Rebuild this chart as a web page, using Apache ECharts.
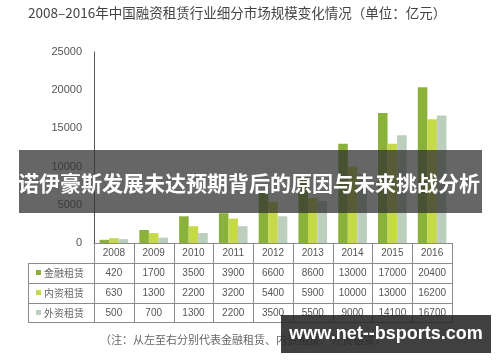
<!DOCTYPE html>
<html><head><meta charset="utf-8">
<script src="https://cdn.jsdelivr.net/npm/echarts@6/dist/echarts.min.js"></script>
<style>html,body{margin:0;padding:0;background:#fff}#c{width:500px;height:362px}</style>
</head><body><div id="c"></div>
<script>
const years = ['2008','2009','2010','2011','2012','2013','2014','2015','2016'];
const jinrong = [420,1700,3500,3900,6600,8600,13000,17000,20400];
const neizi = [630,1300,2200,3200,5400,5900,10000,13000,16200];
const waizi = [500,700,1300,2200,3500,5500,9000,14100,16700];
const seriesNames = ['金融租赁','内资租赁','外资租赁'];
const seriesColors = ['#8ab23a','#c6d94a','#bccebc'];
const titleText = '2008–2016年中国融资租赁行业细分市场规模变化情况（单位：亿元）';
const noteText = '（注：从左至右分别代表金融租赁、内资租赁、外资租赁）';
const bannerText = '诺伊豪斯发展未达预期背后的原因与未来挑战分析';
const siteText = 'www.net--bsports.com';

const NUM = 'Liberation Sans, Arial, Noto Sans CJK SC, sans-serif';
const CJK = 'Noto Sans CJK SC, sans-serif';
const G = {left: 94, top: 52, right: 48, bottom: 119};
const W = 500 - G.left - G.right;
const axisY = 362 - G.bottom;
const rowH = 20;
const tableBottom = axisY + rowH * 4 - 1;
const lineColor = '#8a8a8a';

const rows = [jinrong, neizi, waizi];
const xAxes = [{
  type: 'category', data: years, gridIndex: 0, position: 'bottom',
  axisLine: {show: true, lineStyle: {color: lineColor, width: 1}},
  axisTick: {show: false},
  axisLabel: {margin: 5, fontSize: 10, color: '#555', fontFamily: NUM}
}];
rows.forEach((arr, r) => {
  xAxes.push({
    type: 'category', data: years, gridIndex: 0, position: 'bottom', offset: rowH * (r + 1),
    axisLine: {show: false}, axisTick: {show: false},
    axisLabel: {margin: 5, fontSize: 10, color: '#555', fontFamily: NUM,
      formatter: (v, i) => String(arr[i])}
  });
});

const graphics = [];
graphics.push({type: 'text', left: 28, top: 6, z: 10,
  style: {text: titleText, fill: '#444', font: '13.5px ' + CJK}});
const hl = (y, x1, x2) => graphics.push({type: 'line', z: 5,
  shape: {x1: x1, y1: y + 0.5, x2: x2, y2: y + 0.5}, style: {stroke: lineColor, lineWidth: 1}});
const vl = (x, y1, y2) => graphics.push({type: 'line', z: 5,
  shape: {x1: x + 0.5, y1: y1, x2: x + 0.5, y2: y2}, style: {stroke: lineColor, lineWidth: 1}});
for (let r = 1; r <= 3; r++) hl(axisY + rowH * r, 28, G.left + W);
hl(tableBottom, 28, G.left + W);
vl(28, axisY + rowH, tableBottom);
vl(G.left, axisY, tableBottom);
for (let k = 1; k <= years.length; k++) vl(Math.round(G.left + W * k / years.length), axisY, tableBottom);
seriesNames.forEach((n, r) => {
  const cy = axisY + rowH * (r + 1) + rowH / 2;
  graphics.push({type: 'rect', z: 6, shape: {x: 36, y: cy - 3, width: 5, height: 5}, style: {fill: seriesColors[r]}});
  graphics.push({type: 'text', z: 6, x: 44, y: cy,
    style: {text: n, fill: '#666', font: '10px ' + CJK, verticalAlign: 'middle'}});
});
graphics.push({type: 'text', z: 6, x: 100, y: 340,
  style: {text: noteText, fill: '#666', font: '11px ' + CJK, verticalAlign: 'middle'}});
graphics.push({type: 'rect', z: 50, shape: {x: 19, y: 150, width: 463, height: 63},
  style: {fill: 'rgba(48,48,48,0.74)'}});
graphics.push({type: 'text', z: 51, x: 249, y: 183,
  style: {text: bannerText, fill: '#fff', font: 'bold 21px ' + CJK, align: 'center', verticalAlign: 'middle'}});
graphics.push({type: 'rect', z: 50, shape: {x: 281, y: 315, width: 210, height: 38},
  style: {fill: 'rgba(38,38,38,0.88)'}});
graphics.push({type: 'text', z: 51, x: 386, y: 334,
  style: {text: siteText, fill: '#fff', font: 'bold 18px ' + NUM, align: 'center', verticalAlign: 'middle'}});

const chart = echarts.init(document.getElementById('c'), null, {renderer: 'canvas'});
chart.setOption({
  animation: false,
  backgroundColor: '#fff',
  grid: {left: G.left, top: G.top, right: G.right, bottom: G.bottom, containLabel: false},
  xAxis: xAxes,
  yAxis: {
    type: 'value', min: 0, max: 25000, interval: 5000,
    axisLine: {show: true, lineStyle: {color: '#555', width: 1}},
    axisTick: {show: false},
    splitLine: {show: false},
    axisLabel: {margin: 12, fontSize: 11, color: '#555', fontFamily: NUM,
      formatter: v => String(v)}
  },
  series: seriesNames.map((n, r) => ({
    name: n, type: 'bar', xAxisIndex: 0, data: rows[r],
    barGap: '0%', barCategoryGap: '28%',
    itemStyle: {color: seriesColors[r]}
  })),
  graphic: graphics
});
</script></body></html>
